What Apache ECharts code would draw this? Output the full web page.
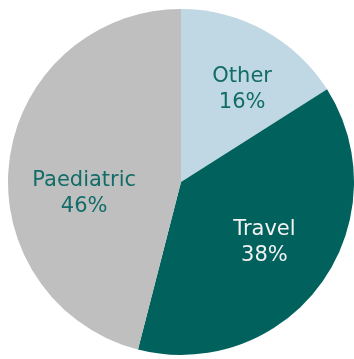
<!DOCTYPE html>
<html>
<head>
<meta charset="utf-8">
<script src="https://cdn.jsdelivr.net/npm/echarts@6/dist/echarts.min.js"></script>
<style>
html,body{margin:0;padding:0;background:#fff;}
#main{width:354px;height:359px;}
</style>
</head>
<body>
<div id="main"></div>
<script>
const categories = ['Other', 'Travel', 'Paediatric'];
const values = [16, 38, 46];
const sliceColors = ['#c0d8e3', '#00615d', '#bfbfbf'];
const labelColors = ['#126c67', '#f2f2f2', '#126c67'];
const labelShift = [[18, -14], [11, 8], [-8, 23]];

const chart = echarts.init(document.getElementById('main'), null, {renderer: 'canvas'});
chart.setOption({
  animation: false,
  series: [{
    type: 'pie',
    center: [181, 182],
    radius: [0, 173],
    startAngle: 90,
    clockwise: true,
    avoidLabelOverlap: false,
    itemStyle: {borderWidth: 0},
    label: {
      show: true,
      position: 'inside',
      fontFamily: 'DejaVu Sans',
      fontSize: 21,
      lineHeight: 26,
      align: 'center',
      formatter: p => p.name + '\n' + p.value + '%'
    },
    labelLine: {show: false},
    emphasis: {disabled: true},
    labelLayout: function (params) {
      const s = labelShift[params.dataIndex];
      return {dx: s[0], dy: s[1]};
    },
    data: categories.map((c, i) => ({
      name: c,
      value: values[i],
      itemStyle: {color: sliceColors[i]},
      label: {color: labelColors[i]}
    }))
  }]
});
</script>
</body>
</html>
